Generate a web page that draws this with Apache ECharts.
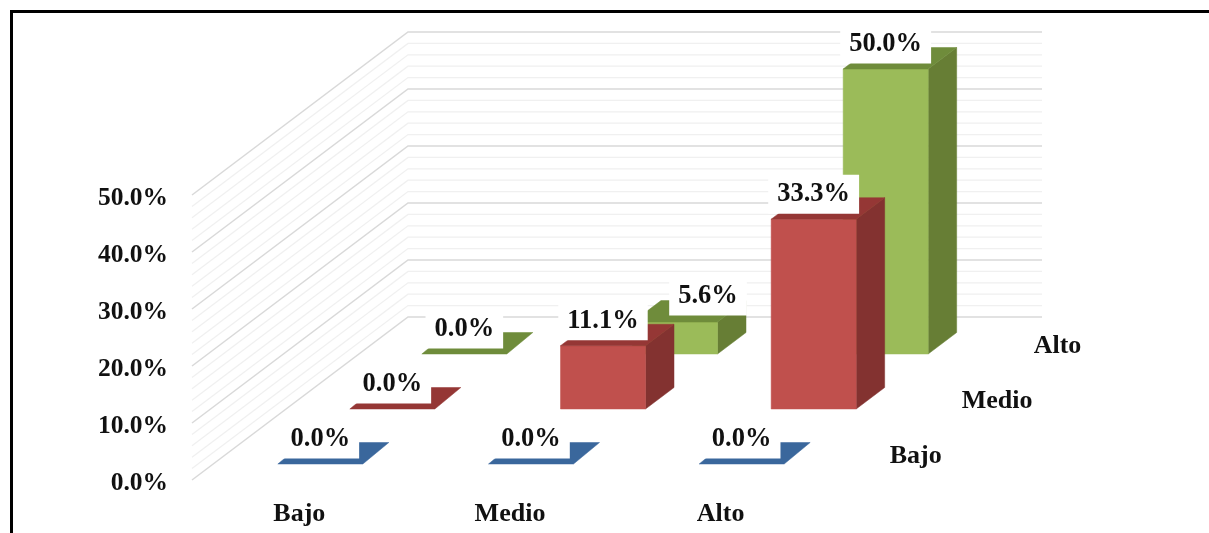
<!DOCTYPE html>
<html>
<head>
<meta charset="utf-8">
<style>html,body{margin:0;padding:0;background:#fff}#c{width:1209px;height:533px}</style>
<script src="https://cdn.jsdelivr.net/npm/echarts@6/dist/echarts.min.js"></script>
</head>
<body>
<div id="c"></div>
<script>
// Data
var categories = ['Bajo', 'Medio', 'Alto'];
var rows = ['Bajo', 'Medio', 'Alto'];
var valuesBajo = [0.0, 0.0, 0.0];
var valuesMedio = [0.0, 11.1, 33.3];
var valuesAlto = [0.0, 5.6, 50.0];
var gridTicks = [0, 2, 4, 6, 8, 10, 12, 14, 16, 18, 20, 22, 24, 26, 28, 30, 32, 34, 36, 38, 40, 42, 44, 46, 48, 50];

// Oblique projection settings
var ROW_DX = 72, ROW_DY = -55, ROW0_DX = 25, ROW0_DY = -16;
var BAR_HALF = 42.5, BAR_DX = 28.5, BAR_DY = -21.5, FLAT_DX = 26;
var WALL_DX = 216, WALL_DY = -163, WALL_LEN = 634;
var FONT = '"Liberation Serif","Times New Roman",serif';
var LABEL_NUDGE = {'2,1': [33, -1]}; // the 5.6% label was moved by hand in the original
var palette = [
  {front: '#4f81bd', top: '#3a679c', side: '#2f5585'},
  {front: '#c0504d', top: '#953735', side: '#833230'},
  {front: '#9bbb59', top: '#6f8c3b', side: '#677e35'}
];
var allRows = [valuesBajo, valuesMedio, valuesAlto];

function rowShift(r) { return [ROW0_DX + ROW_DX * r, ROW0_DY + ROW_DY * r]; }

function poly(points, fill) {
  return {type: 'polygon', shape: {points: points}, style: {fill: fill, stroke: fill, lineWidth: 0.5}};
}

function barSeries(r) {
  return {
    type: 'custom', coordinateSystem: 'cartesian2d', clip: false, silent: true, z: 3 + (2 - r),
    encode: {x: 0, y: 1},
    data: allRows[r].map(function (v, i) { return [i, v]; }),
    renderItem: function (params, api) {
      var s = rowShift(r);
      var top = api.coord([api.value(0), api.value(1)]);
      var base = api.coord([api.value(0), 0]);
      var x0 = top[0] + s[0] - BAR_HALF, x1 = top[0] + s[0] + BAR_HALF;
      var yt = top[1] + s[1], yb = base[1] + s[1];
      var c = palette[r];
      var kids = [];
      var flat = yb - yt <= 0.5;
      var dx = flat ? FLAT_DX : BAR_DX;
      if (!flat) {
        kids.push(poly([[x1, yt], [x1 + dx, yt + BAR_DY], [x1 + dx, yb + BAR_DY], [x1, yb]], c.side));
        kids.push(poly([[x0, yt], [x1, yt], [x1, yb], [x0, yb]], c.front));
      }
      kids.push(poly([[x0, yt], [x1, yt], [x1 + dx, yt + BAR_DY], [x0 + dx, yt + BAR_DY]], c.top));
      return {type: 'group', children: kids};
    }
  };
}

var labelData = [];
allRows.forEach(function (vals, r) {
  vals.forEach(function (v, i) { labelData.push([i, v, r]); });
});

var series = [
  {
    type: 'custom', coordinateSystem: 'cartesian2d', clip: false, silent: true, z: 1,
    encode: {x: 0, y: 1},
    data: gridTicks.map(function (t) { return [0, t]; }),
    renderItem: function (params, api) {
      var v = api.value(1);
      var y = api.coord([0, v])[1];
      var x = params.coordSys.x + 2;
      return {
        type: 'polyline',
        shape: {points: [[x, y], [x + WALL_DX, y + WALL_DY], [x + WALL_DX + WALL_LEN, y + WALL_DY]]},
        style: {fill: null, stroke: v % 10 === 0 ? '#d9d9d9' : '#f0f0f0', lineWidth: v % 10 === 0 ? 1.5 : 1.2}
      };
    }
  },
  barSeries(2), barSeries(1), barSeries(0),
  {
    type: 'custom', coordinateSystem: 'cartesian2d', clip: false, silent: true, z: 10,
    encode: {x: 0, y: 1},
    data: labelData,
    renderItem: function (params, api) {
      var i = api.value(0), r = api.value(2), v = api.value(1), s = rowShift(r);
      var p = api.coord([i, v]);
      var n = LABEL_NUDGE[r + ',' + i] || [0, 0];
      return {
        type: 'text',
        style: {
          text: v.toFixed(1) + '%', x: p[0] + s[0] + n[0], y: p[1] + s[1] - 25 + n[1],
          align: 'center', verticalAlign: 'middle',
          fontFamily: FONT, fontWeight: 'bold', fontSize: 26.5, fill: '#111',
          backgroundColor: '#fff', padding: [7, 9, 5, 9]
        }
      };
    }
  },
  {
    type: 'custom', coordinateSystem: 'cartesian2d', clip: false, silent: true, z: 10,
    encode: {x: 0, y: 1},
    data: rows.map(function (n, r) { return [2, 0, r]; }),
    renderItem: function (params, api) {
      var r = api.value(2);
      var p = api.coord([2, 0]);
      return {
        type: 'text',
        style: {
          text: rows[r], x: p[0] + 173 + ROW_DX * r, y: p[1] - 23.5 + ROW_DY * r,
          align: 'left', verticalAlign: 'middle',
          fontFamily: FONT, fontWeight: 'bold', fontSize: 26, fill: '#111'
        }
      };
    }
  }
];

var chart = echarts.init(document.getElementById('c'), null, {renderer: 'canvas'});
chart.setOption({
  animation: false,
  backgroundColor: '#fff',
  grid: {left: 190, top: 195, width: 632, height: 285, containLabel: false},
  xAxis: {
    type: 'category', data: categories,
    axisLine: {show: false}, axisTick: {show: false}, splitLine: {show: false},
    axisLabel: {fontFamily: FONT, fontWeight: 'bold', fontSize: 26, color: '#111', margin: 21, padding: [0, 0, 0, 8]}
  },
  yAxis: {
    type: 'value', min: 0, max: 50, interval: 10,
    axisLine: {show: false}, axisTick: {show: false}, splitLine: {show: false},
    axisLabel: {fontFamily: FONT, fontWeight: 'bold', fontSize: 25.5, color: '#111', margin: 22,
      verticalAlign: 'top', lineHeight: 6,
      formatter: function (v) { return v.toFixed(1) + '%'; }}
  },
  graphic: [
    {type: 'line', silent: true, shape: {x1: 10, y1: 11.5, x2: 1209, y2: 11.5}, style: {stroke: '#000', lineWidth: 3}},
    {type: 'line', silent: true, shape: {x1: 11.5, y1: 10, x2: 11.5, y2: 533}, style: {stroke: '#000', lineWidth: 3}}
  ],
  series: series
});
</script>
</body>
</html>
